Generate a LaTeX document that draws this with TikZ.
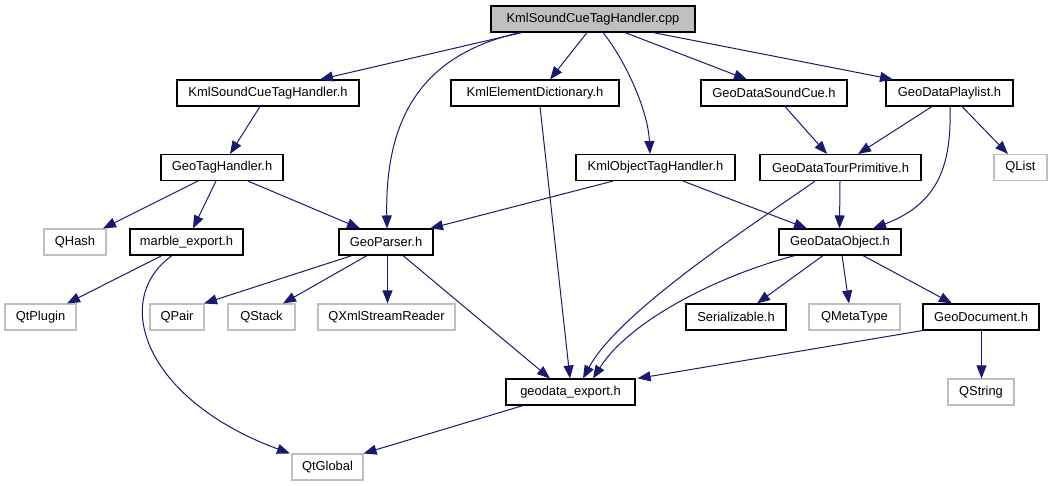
\documentclass[tikz,border=0pt]{standalone}
\usepackage{fontspec}
\setmainfont{Liberation Sans}
\usetikzlibrary{arrows.meta}
\definecolor{edgeblue}{RGB}{25,25,112}
\definecolor{lightborder}{RGB}{191,191,191}
\begin{document}
\begin{tikzpicture}[x=1pt,y=-1pt,
  box/.style={draw=black,line width=1.1pt,minimum height=26pt,inner sep=0pt,font=\fontsize{12.9}{15}\selectfont},
  ext/.style={draw=lightborder,line width=1.1pt,minimum height=26pt,inner sep=0pt,font=\fontsize{12.9}{15}\selectfont},
  dep/.style={draw=edgeblue,line width=1pt,-{Triangle[length=13pt,width=10pt]},fill=none}
]
\useasboundingbox (0,0) rectangle (1059,485);
% row 1
\node[box,fill=lightborder,minimum width=204pt] (cpp) at (593,19) {KmlSoundCueTagHandler.cpp};
% row 2
\node[box,minimum width=182pt] (ksh) at (268,93) {KmlSoundCueTagHandler.h};
\node[box,minimum width=168pt] (ked) at (535,93) {KmlElementDictionary.h};
\node[box,minimum width=146pt] (gdsc) at (774,93) {GeoDataSoundCue.h};
\node[box,minimum width=127pt] (gdp) at (949.5,93) {GeoDataPlaylist.h};
% row 3
\node[box,minimum width=122pt] (gth) at (222,167.5) {GeoTagHandler.h};
\node[box,minimum width=159pt] (koth) at (655.5,167.5) {KmlObjectTagHandler.h};
\node[box,minimum width=161pt] (gdtp) at (840.5,167.5) {GeoDataTourPrimitive.h};
\node[ext,minimum width=53pt] (qlist) at (1020.5,167.5) {QList};
% row 4
\node[ext,minimum width=62pt] (qhash) at (75,242) {QHash};
\node[box,minimum width=113pt] (mexp) at (186.5,242) {marble\_export.h};
\node[box,minimum width=94pt] (gp) at (386,242) {GeoParser.h};
\node[box,minimum width=122pt] (gdo) at (840,242) {GeoDataObject.h};
% row 5
\node[ext,minimum width=71pt] (qtplugin) at (40.5,317) {QtPlugin};
\node[ext,minimum width=54pt] (qpair) at (177,317) {QPair};
\node[ext,minimum width=67pt] (qstack) at (261.5,317) {QStack};
\node[ext,minimum width=137pt] (qxml) at (386.5,317) {QXmlStreamReader};
\node[box,minimum width=100pt] (ser) at (736,317) {Serializable.h};
\node[ext,minimum width=91pt] (qmeta) at (854.5,317) {QMetaType};
\node[box,minimum width=116pt] (gdoc) at (981,317) {GeoDocument.h};
% row 6
\node[box,minimum width=129pt] (gexp) at (570.5,392) {geodata\_export.h};
\node[ext,minimum width=66pt] (qstring) at (981,392) {QString};
% row 7
\node[ext,minimum width=71pt] (qtglobal) at (327.5,467) {QtGlobal};

% edges from cpp
\draw[dep] ([xshift=-71pt]cpp.south) -- ([xshift=52pt]ksh.north);
\draw[dep] ([xshift=-73pt]cpp.south) .. controls (420,55) and (385,120) .. ([xshift=1pt]gp.north);
\draw[dep] ([xshift=-6pt]cpp.south) -- ([xshift=15pt]ked.north);
\draw[dep] ([xshift=10pt]cpp.south) .. controls (625,60) and (648,110) .. ([xshift=-5.5pt]koth.north);
\draw[dep] ([xshift=32pt]cpp.south) -- ([xshift=-27pt]gdsc.north);
\draw[dep] ([xshift=60pt]cpp.south) -- ([xshift=-56.5pt]gdp.north);
% row 2 edges
\draw[dep] ([xshift=-8pt]ksh.south) -- ([xshift=8pt]gth.north);
\draw[dep] ([xshift=5pt]ked.south) -- ([xshift=-0.5pt]gexp.north);
\draw[dep] ([xshift=11pt]gdsc.south) -- ([xshift=-13.5pt]gdtp.north);
\draw[dep] ([xshift=-17.5pt]gdp.south) -- ([xshift=17.5pt]gdtp.north);
\draw[dep] ([xshift=0.5pt]gdp.south) .. controls (952,170) and (935,205) .. ([xshift=33pt]gdo.north);
\draw[dep] ([xshift=12.5pt]gdp.south) -- ([xshift=-12.5pt]qlist.north);
% row 3 edges
\draw[dep] ([xshift=-24pt]gth.south) -- ([xshift=28pt]qhash.north);
\draw[dep] ([xshift=-6pt]gth.south) -- ([xshift=6.5pt]mexp.north);
\draw[dep] ([xshift=26pt]gth.south) -- ([xshift=-26pt]gp.north);
\draw[dep] ([xshift=-42.5pt]koth.south) -- ([xshift=44pt]gp.north);
\draw[dep] ([xshift=27.5pt]koth.south) -- ([xshift=-33pt]gdo.north);
\draw[dep] ([xshift=-25.5pt]gdtp.south) .. controls (760,220) and (620,310) .. ([xshift=12.5pt]gexp.north);
\draw[dep] ([xshift=-0.5pt]gdtp.south) -- ([xshift=-0.5pt]gdo.north);
% row 4 edges
\draw[dep] ([xshift=-24.5pt]mexp.south) -- ([xshift=26.5pt]qtplugin.north);
\draw[dep] ([xshift=-14.5pt]mexp.south) .. controls (110,300) and (145,400) .. ([xshift=-37.5pt]qtglobal.north);
\draw[dep] ([xshift=-34pt]gp.south) -- ([xshift=27pt]qpair.north);
\draw[dep] ([xshift=-19pt]gp.south) -- ([xshift=21.5pt]qstack.north);
\draw[dep] ([xshift=1.5pt]gp.south) -- ([xshift=1pt]qxml.north);
\draw[dep] ([xshift=17pt]gp.south) -- ([xshift=-20.5pt]gexp.north);
\draw[dep] ([xshift=-45pt]gdo.south) .. controls (720,275) and (630,320) .. ([xshift=22.5pt]gexp.north);
\draw[dep] ([xshift=-17pt]gdo.south) -- ([xshift=21pt]ser.north);
\draw[dep] ([xshift=2pt]gdo.south) -- ([xshift=-5.5pt]qmeta.north);
\draw[dep] ([xshift=23pt]gdo.south) -- ([xshift=-29pt]gdoc.north);
% row 5 edges
\draw[dep] (gdoc.south west) -- ([xshift=2pt]gexp.north east);
\draw[dep] ([xshift=0.5pt]gdoc.south) -- ([xshift=0.5pt]qstring.north);
% row 6 edges
\draw[dep] ([xshift=-47.5pt]gexp.south) -- (qtglobal.north east);
\end{tikzpicture}
\end{document}
